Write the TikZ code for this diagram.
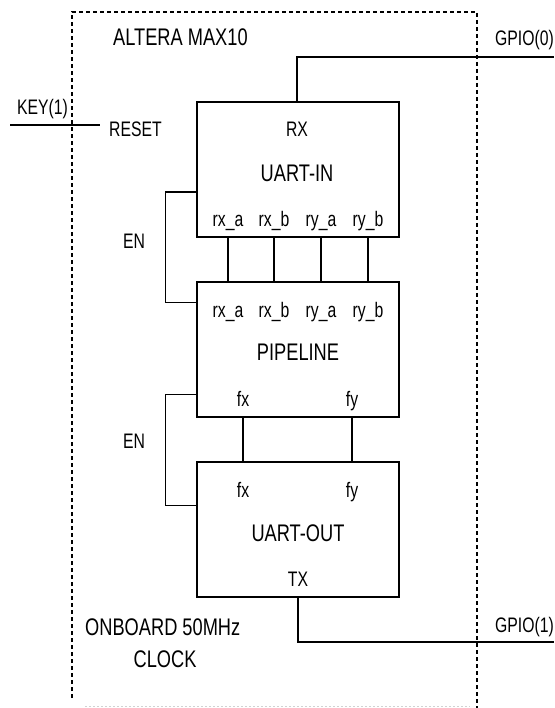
\documentclass[tikz,border=0pt]{standalone}
\usepackage{fontspec}
\setmainfont{Liberation Sans}
\usepackage{graphicx}
\newcommand{\bigtxt}[1]{{\fontsize{24}{28}\selectfont\scalebox{0.76}[1]{#1}}}
\newcommand{\smtxt}[1]{{\fontsize{21}{25}\selectfont\scalebox{0.75}[1]{#1}}}
\begin{document}
\begin{tikzpicture}[x=1pt,y=-1pt]
\tikzset{
  box/.style={draw, line width=1.3pt, inner sep=0pt, minimum width=202pt, minimum height=135pt},
  wire/.style={line width=1.3pt},
  border/.style={line width=1.2pt, dash pattern=on 4pt off 3pt},
  lbl/.style={inner sep=0pt, anchor=base},
  lblw/.style={inner sep=0pt, anchor=base west}
}
\useasboundingbox (0,0) rectangle (554,708);
\fill[white] (0,0) rectangle (554,708);

% FPGA boundary
\draw[border] (72,698) -- (72,12) -- (477,12) -- (477,708);
\draw[gray!35, line width=0.8pt, dash pattern=on 2pt off 2pt] (85,706) -- (470,706);

% boxes
\node[box] (uin) at (298,169.5) {};
\node[box] (pipe) at (298,349.5) {};
\node[box] (uout) at (298,529.5) {};

% titles
\node[lblw] (altera) at (113,45.5) {\bigtxt{ALTERA MAX10}};
\node[lblw] (gpio0) at (495,46) {\smtxt{GPIO(0)}};
\node[lblw] (key) at (17,115) {\smtxt{KEY(1)}};
\node[lblw] (reset) at (109,137) {\smtxt{RESET}};
\node[lblw] (clk1) at (85,635) {\bigtxt{ONBOARD 50MHz}};
\node[lbl] (clk2) at (165,667) {\bigtxt{CLOCK}};
\node[lblw] (gpio1) at (495,632) {\smtxt{GPIO(1)}};
\node[lblw] (en1) at (123,248) {\smtxt{EN}};
\node[lblw] (en2) at (123,448) {\smtxt{EN}};

% UART-IN
\node[lbl] (rx) at (297,137) {\smtxt{RX}};
\node[lbl] (uinname) at (297,182) {\bigtxt{UART-IN}};
\node[lbl] (ia) at (228,227) {\smtxt{rx\_a}};
\node[lbl] (ib) at (274,227) {\smtxt{rx\_b}};
\node[lbl] (ic) at (321,227) {\smtxt{ry\_a}};
\node[lbl] (id) at (368,227) {\smtxt{ry\_b}};

% PIPELINE
\node[lbl] (pa) at (228,317) {\smtxt{rx\_a}};
\node[lbl] (pb) at (274,317) {\smtxt{rx\_b}};
\node[lbl] (pc) at (321,317) {\smtxt{ry\_a}};
\node[lbl] (pd) at (368,317) {\smtxt{ry\_b}};
\node[lbl] (pipename) at (298,360) {\bigtxt{PIPELINE}};
\node[lbl] (pfx) at (243,406) {\smtxt{fx}};
\node[lbl] (pfy) at (352,406) {\smtxt{fy}};

% UART-OUT
\node[lbl] (ofx) at (243,497) {\smtxt{fx}};
\node[lbl] (ofy) at (352,497) {\smtxt{fy}};
\node[lbl] (uoutname) at (298,541) {\bigtxt{UART-OUT}};
\node[lbl] (tx) at (298,586) {\smtxt{TX}};

% external wires
\coordinate (g0) at (554,57);
\coordinate (g1) at (554,642);
\coordinate (k0) at (10,125);
\draw[wire] (uin.north -| rx) |- (g0);
\draw[wire] (uout.south -| tx) |- (g1);
\draw[wire, shorten >=9pt] (k0) -- (k0 -| reset.west);

% internal buses
\draw[wire] (uin.south -| ia) -- (pipe.north -| pa);
\draw[wire] (uin.south -| ib) -- (pipe.north -| pb);
\draw[wire] (uin.south -| ic) -- (pipe.north -| pc);
\draw[wire] (uin.south -| id) -- (pipe.north -| pd);
\draw[wire] (pipe.south -| pfx) -- (uout.north -| ofx);
\draw[wire] (pipe.south -| pfy) -- (uout.north -| ofy);

% enable loops
\draw[wire] ([yshift=-22.5pt]uin.west) -- ++(-31,0) |- ([yshift=-21pt]pipe.north west);
\draw[wire] ([yshift=23pt]pipe.south west) -- ++(-31,0) |- ([yshift=-44pt]uout.north west);
\end{tikzpicture}
\end{document}
